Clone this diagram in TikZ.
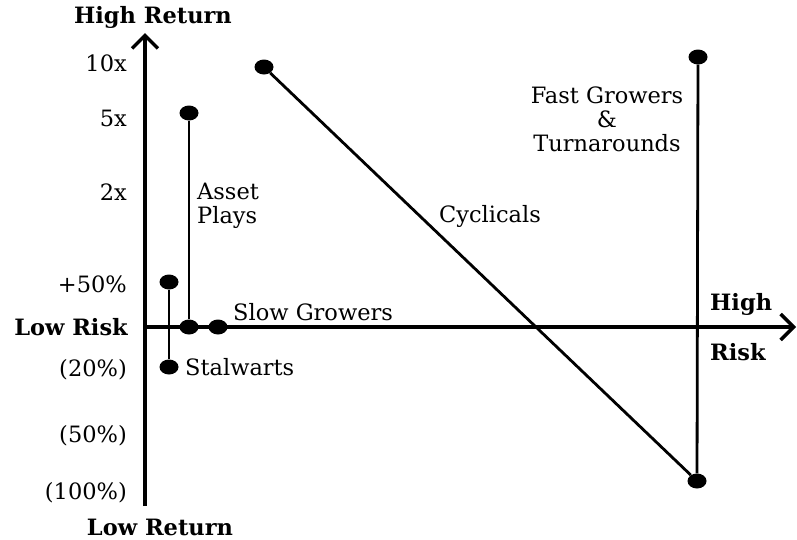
\documentclass[tikz,border=0pt]{standalone}
\usepackage{fontspec}
\setmainfont{DejaVu Serif}
\usetikzlibrary{arrows.meta}

\tikzset{
  dot/.style={fill,ellipse,inner sep=0pt,minimum width=19pt,minimum height=15pt},
  axis/.style={line width=4pt,-{Straight Barb[length=13pt,width=26pt,line width=3.5pt]}},
  stem/.style={line width=2.8pt},
  lbl/.style={font=\fontsize{22.5}{24}\selectfont,inner sep=0pt},
  bold/.style={lbl,font=\fontsize{22.5}{24}\selectfont\bfseries},
  tick/.style={lbl,anchor=east}
}
\usetikzlibrary{shapes.geometric}

\begin{document}
\begin{tikzpicture}[x=1pt,y=-1pt]
\useasboundingbox (0,0) rectangle (797,539);

% Axes
\coordinate (origin) at (145,327);
\coordinate (yBot) at (145,506);
\coordinate (yTop) at (145,33);
\coordinate (xEnd) at (796,327);
\draw[axis] (yBot) -- (yTop);
\draw[axis] (origin) -- (xEnd);

% Axis labels
\node[bold] (hiRet) at (153,17) {High Return};
\node[bold] (loRet) at (160,527) {Low Return};
\node[bold,anchor=east] (loRisk) at (128,327) {Low Risk};
\node[bold,anchor=west] (hiRiskA) at (710,304) {High};
\node[bold,anchor=west] (hiRiskB) at (710,352) {Risk};

% Return scale
\node[tick] (t10x) at (127,63) {10x};
\node[tick] (t5x) at (127,118) {5x};
\node[tick] (t2x) at (127,192) {2x};
\node[tick] (t50) at (127,284) {+50\%};
\node[tick] (tm20) at (127,370) {(20\%)};
\node[tick] (tm50) at (127,436) {(50\%)};
\node[tick] (tm100) at (127,493) {(100\%)};

% Points
\node[dot] (stalTop) at (169,282) {};
\node[dot] (stalBot) at (169,367) {};
\node[dot] (assetTop) at (189,113) {};
\node[dot] (assetBot) at (189,327) {};
\node[dot] (slow) at (218,327) {};
\node[dot] (cycTop) at (264,67) {};
\node[dot] (cycBot) at (697,481) {};
\node[dot] (fastTop) at (698,57) {};

% Ranges
\draw[stem] (stalTop) -- (stalBot);
\draw[stem] (assetTop) -- (assetBot);
\draw[stem] (cycTop) -- (cycBot);
\draw[stem] (fastTop) -- (cycBot);

% Category labels
\node[lbl,anchor=west] (stal) at (185,367) {Stalwarts};
\node[lbl,anchor=west,align=left] (asset) at (197,206) {Asset\\Plays};
\node[lbl,anchor=west] (slowLbl) at (233,312) {Slow Growers};
\node[lbl] (cyc) at (490,216) {Cyclicals};
\node[lbl,align=center] (fast) at (607,119) {Fast Growers\\\&\\Turnarounds};

\end{tikzpicture}
\end{document}
